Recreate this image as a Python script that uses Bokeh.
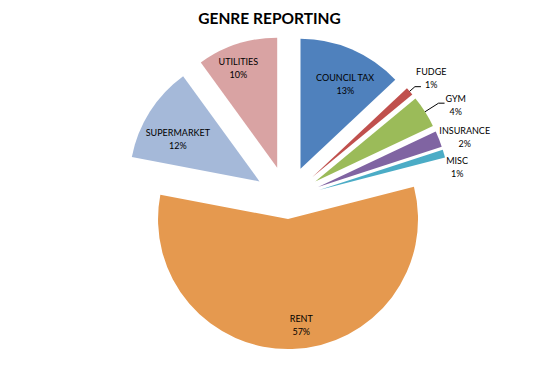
import numpy as np
from bokeh.plotting import figure
from bokeh.models import Range1d, ColumnDataSource
from bokeh.core.properties import value
from bokeh.embed import file_html
from bokeh.resources import INLINE

# ---- data ----
categories = ["COUNCIL TAX", "FUDGE", "GYM", "INSURANCE", "MISC", "RENT", "SUPERMARKET", "UTILITIES"]
percent = [13, 1, 4, 2, 1, 57, 12, 10]
title_text = "GENRE REPORTING"

# ---- style / layout ----
colors = ["#4F81BD", "#C0504D", "#9BBB59", "#8064A2", "#4BACC6", "#E5994F", "#A5B9D9", "#D9A3A3"]
explode = [33, 33, 33, 33, 33, 20, 33, 33]          # px offset of each slice
label_dist = [96, 155, 160, 155, 140, 107, 92, 107]  # px from slice apex
label_nudge = [4.5, 1.6, 3.8, 2.7, 6.6, -5.3, -5.0, -3.3]  # deg
leader_idx = [1, 2]
leader_elbow = [137, 146]
leader_tail = 6

W, H = 518, 361
CX, CY = 286.9, 377 - 198.6
R = 130

p = figure(width=W, height=H, output_backend="svg", toolbar_location=None,
           x_range=Range1d(0, W), y_range=Range1d(377 - H, 377),
           min_border=0, outline_line_color=None)
p.axis.visible = False
p.grid.visible = False

vals = np.array(percent, dtype=float)
frac = vals / vals.sum()
th_end = np.cumsum(frac) * 360.0
th_start = th_end - frac * 360.0
th_mid = (th_start + th_end) / 2.0
rad = np.radians
exp = np.array(explode, dtype=float)
sx = CX + exp * np.sin(rad(th_mid))
sy = CY + exp * np.cos(rad(th_mid))

src = ColumnDataSource(dict(
    x=sx, y=sy,
    start=rad(90 - th_start), end=rad(90 - th_end),
    color=colors,
))
p.wedge(x="x", y="y", radius=R, start_angle="start", end_angle="end",
        direction="clock", fill_color="color", line_color=None, source=src)

la = th_mid + np.array(label_nudge)
ld = np.array(label_dist, dtype=float)
lx = sx + ld * np.sin(rad(la))
ly = sy + ld * np.cos(rad(la))
lsrc = ColumnDataSource(dict(x=lx, y=ly, name=categories,
                             pct=[f"{v}%" for v in percent]))
p.text(x="x", y="y", text="name", source=lsrc, text_font=value("Lato"),
       text_font_size="9px", text_align="center", text_baseline="middle",
       y_offset=-6.5, text_color="#000000")
p.text(x="x", y="y", text="pct", source=lsrc, text_font=value("Lato"),
       text_font_size="9px", text_align="center", text_baseline="middle",
       y_offset=6.5, text_color="#000000")

xs, ys = [], []
for i, el in zip(leader_idx, leader_elbow):
    d = rad(th_mid[i])
    x0 = sx[i] + R * np.sin(d); y0 = sy[i] + R * np.cos(d)
    x1 = sx[i] + el * np.sin(d); y1 = sy[i] + el * np.cos(d)
    xs.append([x0, x1, x1 + leader_tail]); ys.append([y0, y1, y1])
p.multi_line(xs=xs, ys=ys, line_color="#000000", line_width=1)

p.text(x=[269], y=[377 - 17], text=[title_text], text_font=value("Lato"),
       text_font_size="15.5px", text_font_style="bold", text_align="center",
       text_baseline="middle", text_color="#000000")

open("out.html", "w").write(file_html(p, INLINE))
